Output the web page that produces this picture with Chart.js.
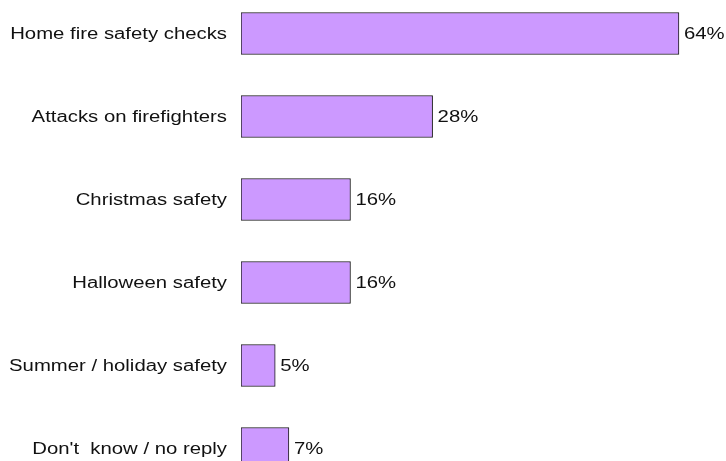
<!DOCTYPE html>
<html>
<head>
<meta charset="utf-8">
<script src="https://cdn.jsdelivr.net/npm/chart.js@4/dist/chart.umd.min.js"></script>
<style>
  html, body { margin: 0; padding: 0; background: #fff; overflow: hidden; }
  #chart { position: absolute; left: 0; top: -8px; }
</style>
</head>
<body>
<canvas id="chart" width="726" height="498"></canvas>
<script>
const categories = [
    "Home fire safety checks",
    "Attacks on firefighters",
    "Christmas safety",
    "Halloween safety",
    "Summer / holiday safety",
    "Don't  know / no reply"
];
const percentages = [64, 28, 16, 16, 5, 7];

const FONT = "16px 'Liberation Sans', Arial, sans-serif";
const STRETCH = 1.27;   // text is drawn a bit wide

function wideText(ctx, text, x, y, align) {
    ctx.save();
    ctx.translate(x, y);
    ctx.scale(STRETCH, 1);
    ctx.textAlign = align;
    ctx.fillText(text, 0, 0);
    ctx.restore();
}

// category names to the left of the bars, percentages to the right
const barLabels = {
    id: "barLabels",
    afterDatasetsDraw(chart) {
        const ctx = chart.ctx;
        const yScale = chart.scales.y;
        const meta = chart.getDatasetMeta(0);
        ctx.save();
        ctx.font = FONT;
        ctx.fillStyle = "#111";
        ctx.textBaseline = "middle";
        categories.forEach((name, i) => {
            const y = yScale.getPixelForValue(i) + 1;
            wideText(ctx, name, yScale.right - 14, y, "right");
        });
        meta.data.forEach((bar, i) => {
            wideText(ctx, percentages[i] + "%", bar.x + 5, bar.y + 1, "left");
        });
        ctx.restore();
    }
};

const ctx = document.getElementById("chart").getContext("2d");

new Chart(ctx, {
    type: "bar",
    data: {
        labels: categories,
        datasets: [{
            data: percentages,
            backgroundColor: "#cc99ff",
            borderColor: "#1a1a1a",
            borderWidth: 1,
            borderSkipped: false,
            barThickness: 42
        }]
    },
    options: {
        indexAxis: "y",
        responsive: false,
        animation: false,
        layout: { padding: { left: 0, right: 6, top: 0, bottom: 0 } },
        plugins: {
            legend: { display: false },
            tooltip: { enabled: false }
        },
        scales: {
            x: {
                min: 0,
                max: 70,
                display: false
            },
            y: {
                grid: { display: false },
                border: { display: false },
                ticks: { display: false },
                afterFit(scale) {
                    scale.width = 241;
                }
            }
        }
    },
    plugins: [barLabels]
});
</script>
</body>
</html>
